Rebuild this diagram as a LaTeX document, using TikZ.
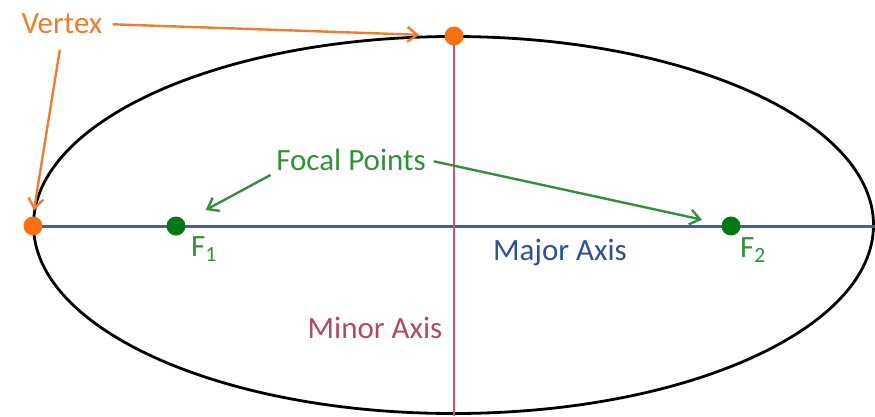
\documentclass[tikz,border=0pt]{standalone}
\usepackage{fontspec}
\setmainfont{Carlito}
\usetikzlibrary{arrows.meta,shapes.geometric}
\definecolor{vertorange}{RGB}{237,125,49}
\definecolor{dotorange}{RGB}{250,110,20}
\definecolor{focgreen}{RGB}{50,145,55}
\definecolor{dotgreen}{RGB}{0,120,20}
\definecolor{majblue}{RGB}{70,95,155}
\definecolor{majtext}{RGB}{45,80,150}
\definecolor{minred}{RGB}{200,85,115}
\definecolor{mintext}{RGB}{175,75,95}

\begin{document}
\begin{tikzpicture}[x=1pt,y=-1pt, font=\fontsize{31}{36}\selectfont,
    dot/.style={circle,inner sep=0pt,minimum size=19pt},
    lbl/.style={inner sep=2pt},
    pointer/.style={-{Straight Barb[length=10pt,width=15pt]},line width=2.4pt}]
        \useasboundingbox (0,0) rectangle (875,416);
        % ellipse and axes
        \node[draw,ellipse,line width=2.8pt,minimum width=840pt,minimum height=377pt,inner sep=0pt] (ell) at (453.5,225) {};
        \draw[majblue,line width=3pt] (33,226) -- (875,226);
        \draw[minred,line width=2.4pt] (454,36) -- (454,416);
        % vertices and foci
        \node[dot,fill=dotorange] (vleft) at (33,226) {};
        \node[dot,fill=dotorange] (vtop) at (454,36) {};
        \node[dot,fill=dotgreen] (fone) at (176,226) {};
        \node[dot,fill=dotgreen] (ftwo) at (731,226) {};
        % labels
        \node[lbl,text=vertorange] (vertex) at (62,24) {Vertex};
        \node[lbl,text=focgreen] (focal) at (351,160) {Focal Points};
        \node[lbl,text=focgreen] (fonelbl) at (204,249) {F\textsubscript{1}};
        \node[lbl,text=focgreen] (ftwolbl) at (753,250) {F\textsubscript{2}};
        \node[lbl,text=majtext] (major) at (560,252) {Major Axis};
        \node[lbl,text=mintext] (minor) at (375,328) {Minor Axis};
        % pointers
        \draw[pointer,vertorange,shorten <=8pt,shorten >=25pt] (vertex.east) -- (vtop);
        \draw[pointer,vertorange,shorten <=14pt,shorten >=6pt] (vertex.south) -- (vleft.north);
        \draw[pointer,focgreen,shorten <=4pt,shorten >=24pt] (focal.south west) -- (fone);
        \draw[pointer,focgreen,shorten <=6pt,shorten >=20pt] (focal.east) -- (ftwo);
\end{tikzpicture}
\end{document}
